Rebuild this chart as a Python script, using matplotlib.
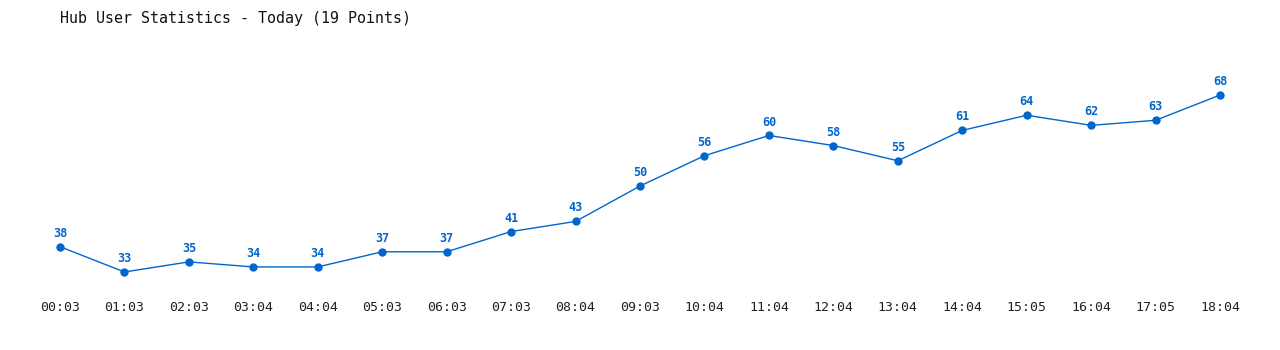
from matplotlib import pyplot as plt

times = ["00:03", "01:03", "02:03", "03:04", "04:04", "05:03", "06:03", "07:03", "08:04",
         "09:03", "10:04", "11:04", "12:04", "13:04", "14:04", "15:05", "16:04", "17:05", "18:04"]
users = [38, 33, 35, 34, 34, 37, 37, 41, 43, 50, 56, 60, 58, 55, 61, 64, 62, 63, 68]

blue = "#0066cc"

fig = plt.figure(figsize=(12.8, 3.5), dpi=100)
ax = fig.add_axes([0, 60 / 350, 1, 290 / 350])

x = list(range(len(users)))
ax.plot(x, users, color=blue, linewidth=1, marker="o", markersize=5)

for xi, v in zip(x, users):
    ax.annotate(str(v), (xi, v), xytext=(0, 5), textcoords="offset points",
                ha="center", va="bottom", color=blue, fontsize=8.5,
                fontweight="bold", family="DejaVu Sans Mono")

ax.set_xlim(-0.931, 18.93)
ax.set_ylim(29.44, 86.79)
ax.set_xticks(x)
ax.set_xticklabels(times, family="DejaVu Sans Mono", fontsize=9.5, color="#222222")
ax.tick_params(axis="x", length=0, pad=8)
ax.set_yticks([])
for s in ax.spines.values():
    s.set_visible(False)

fig.text(60 / 1280, 1 - 18 / 350, "Hub User Statistics - Today (19 Points)",
         family="DejaVu Sans Mono", fontsize=10.8, color="#111111", va="center", ha="left")

plt.savefig("out.png", dpi=100)
